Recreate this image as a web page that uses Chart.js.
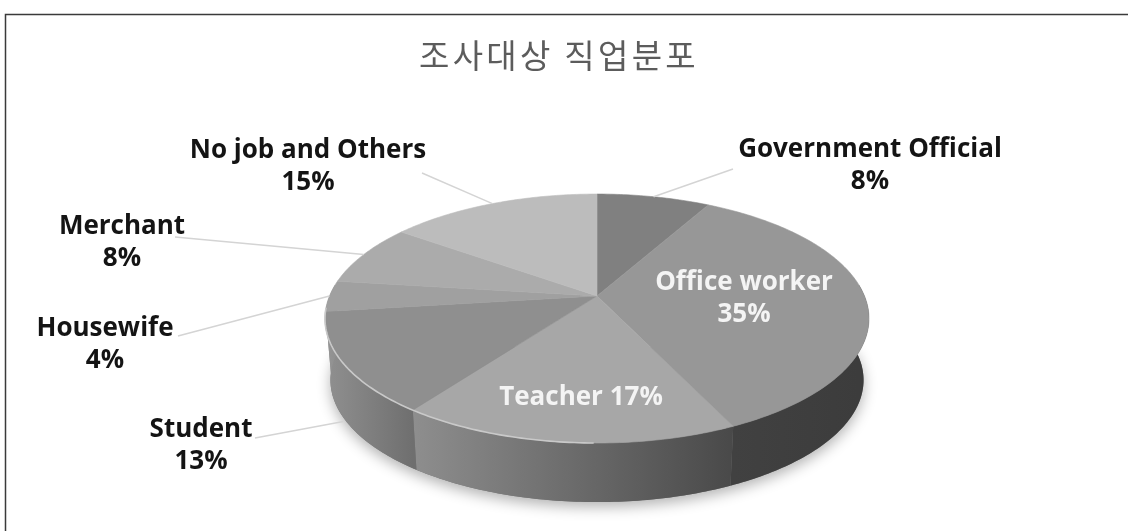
<!DOCTYPE html>
<html>
<head>
<meta charset="utf-8">
<title>조사대상 직업분포</title>
<script src="https://cdn.jsdelivr.net/npm/chart.js@4"></script>
<style>
  html, body { margin: 0; background: #fff; }
  canvas { display: block; }
</style>
</head>
<body>
<canvas id="jobChart" width="1128" height="531"></canvas>
<script>
// --- data ---
const titleText = "조사대상 직업분포";
const categories = ["Government Official", "Office worker", "Teacher", "Student", "Housewife", "Merchant", "No job and Others"];
const shares = [8, 35, 17, 13, 4, 8, 15];

// --- styles ---
const topColors = ["#808080", "#979797", "#a7a7a7", "#8f8f8f", "#a0a0a0", "#ababab", "#bcbcbc"];
const wallLeft = ["#3e3e3e", "#414141", "#8e8e8e", "#909090", "#979797", "#979797", "#979797"];
const wallRight = ["#3e3e3e", "#3c3c3c", "#494949", "#6f6f6f", "#909090", "#979797", "#979797"];

// label text centres and the end of each leader line next to the text
const labelSpots = [
  { x: 870, y: 148, line: [733, 169] },
  { x: 744, y: 281 },
  { x: 581, y: 396, oneLine: true },
  { x: 201, y: 428, line: [255, 438], onWall: true },
  { x: 105, y: 327, line: [178, 336] },
  { x: 122, y: 225, line: [175, 237] },
  { x: 308, y: 149, line: [422, 173] }
];
const lightLabels = [1, 2];

// tilted view of the pie: apex of the slices, radii, perspective, wall height
const view = { x: 597, y: 296, a: 267.5, b: 120.4, k: 0.181, depth: 62, floorScale: 0.98 };

// arc element angle -> point on the tilted rim; floor = the lower edge of the wall
function rimPoint(angle, floor) {
  const t = angle + Math.PI / 2;
  const sx = Math.sin(t), sy = -Math.cos(t);
  const d = 1 - view.k * sy;
  const s = floor ? view.floorScale : 1;
  return [view.x + s * view.a * sx / d, view.y + s * view.b * sy / d + (floor ? view.depth : 0)];
}

function traceRim(ctx, from, to, floor, first) {
  const n = Math.max(2, Math.ceil(Math.abs(to - from) / 0.015));
  for (let i = 0; i <= n; i++) {
    const p = rimPoint(from + (to - from) * i / n, floor);
    if (i === 0 && first) ctx.moveTo(p[0], p[1]);
    else ctx.lineTo(p[0], p[1]);
  }
}

function drawTiltedSlice(ctx) {
  const o = this.options;
  ctx.beginPath();
  ctx.moveTo(view.x, view.y);
  traceRim(ctx, this.startAngle, this.endAngle, false, false);
  ctx.closePath();
  ctx.fillStyle = o.backgroundColor;
  ctx.strokeStyle = o.backgroundColor;
  ctx.lineWidth = 0.6;
  ctx.fill();
  ctx.stroke();
}

const tiltedPie = {
  id: "tiltedPie",
  beforeDraw(chart) {
    // frame of the original picture, only top and left are visible
    const ctx = chart.ctx;
    ctx.save();
    ctx.strokeStyle = "#3a3a3a";
    ctx.lineWidth = 1.5;
    ctx.beginPath();
    ctx.moveTo(5.5, 531);
    ctx.lineTo(5.5, 14.5);
    ctx.lineTo(1128, 14.5);
    ctx.stroke();
    ctx.restore();
    ctx.letterSpacing = "3.3px"; // title is spaced out in the original
  },
  beforeDatasetsDraw(chart) {
    const ctx = chart.ctx;
    ctx.letterSpacing = "0px";
    const arcs = chart.getDatasetMeta(0).data;
    // only the front of the wall can be seen
    const wallFrom = -0.03 * Math.PI;
    const wallTo = Math.PI * 1.03;

    ctx.save();
    ctx.shadowColor = "rgba(0,0,0,0.3)";
    ctx.shadowBlur = 14;
    ctx.shadowOffsetY = 5;
    ctx.beginPath();
    traceRim(ctx, wallFrom, wallTo, true, true);
    ctx.closePath();
    ctx.fillStyle = "#777";
    ctx.fill();
    ctx.restore();

    arcs.forEach((arc, i) => {
      arc.draw = drawTiltedSlice;
      const a0 = Math.max(arc.startAngle, wallFrom);
      const a1 = Math.min(arc.endAngle, wallTo);
      if (a1 <= a0) return;
      const p0 = rimPoint(a0), p1 = rimPoint(a1);
      const g = ctx.createLinearGradient(Math.min(p0[0], p1[0]), 0, Math.max(p0[0], p1[0]), 0);
      g.addColorStop(0, wallLeft[i]);
      g.addColorStop(1, wallRight[i]);
      ctx.beginPath();
      traceRim(ctx, a0, a1, false, true);
      traceRim(ctx, a1, a0, true, false);
      ctx.closePath();
      ctx.fillStyle = g;
      ctx.fill();
    });
  },
  afterDatasetsDraw(chart) {
    const ctx = chart.ctx;
    const arcs = chart.getDatasetMeta(0).data;
    ctx.save();

    // pale highlight along the left front rim
    ctx.strokeStyle = "#c9c9c9";
    ctx.lineWidth = 1.6;
    ctx.beginPath();
    traceRim(ctx, arcs[2].startAngle + 0.45, arcs[3].endAngle + 0.03, false, true);
    ctx.stroke();

    // leaders go to the middle of their slice
    ctx.strokeStyle = "#d4d4d4";
    ctx.lineWidth = 1.4;
    arcs.forEach((arc, i) => {
      const spot = labelSpots[i];
      if (!spot.line) return;
      const mid = (arc.startAngle + arc.endAngle) / 2;
      const p = rimPoint(mid, false);
      ctx.beginPath();
      ctx.moveTo(spot.line[0], spot.line[1]);
      ctx.lineTo(p[0], p[1] + (spot.onWall ? 58 : 0));
      ctx.stroke();
    });

    ctx.font = "bold 26px 'Open Sans'";
    ctx.textAlign = "center";
    ctx.textBaseline = "middle";
    categories.forEach((name, i) => {
      const spot = labelSpots[i];
      const pct = shares[i] + "%";
      ctx.fillStyle = lightLabels.includes(i) ? "#f4f4f4" : "#141414";
      if (spot.oneLine) {
        ctx.fillText(name + " " + pct, spot.x, spot.y + 2);
      } else {
        ctx.fillText(name, spot.x, spot.y + 2);
        ctx.fillText(pct, spot.x, spot.y + 34);
      }
    });
    ctx.restore();
  }
};

new Chart(document.getElementById("jobChart"), {
  type: "pie",
  data: {
    labels: categories,
    datasets: [{
      data: shares,
      backgroundColor: topColors,
      borderWidth: 0,
    }],
  },
  options: {
    responsive: false,
    animation: false,
    layout: { padding: { right: 10 } },
    plugins: {
      legend: { display: false },
      tooltip: { enabled: false },
      title: {
        display: true,
        text: titleText,
        color: "#5c5c5c",
        font: { family: "'Noto Sans CJK KR'", size: 33, weight: "normal" },
        padding: { top: 36, bottom: 10 },
      },
    },
  },
  plugins: [tiltedPie],
});
</script>
</body>
</html>
